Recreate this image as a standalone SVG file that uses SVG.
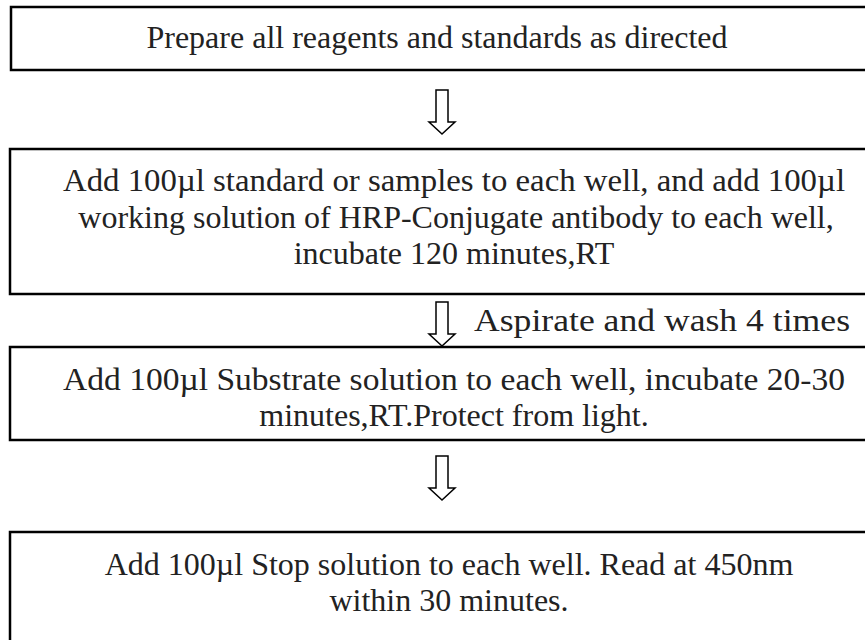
<svg xmlns="http://www.w3.org/2000/svg" width="865" height="640" viewBox="0 0 865 640">
<style>
.box{fill:#fff;stroke:#000;stroke-width:2.5}
.t{font-family:"Liberation Serif","Times New Roman",serif;font-size:32px;fill:#222;text-anchor:middle}
.tl{font-family:"Liberation Serif","Times New Roman",serif;font-size:32px;fill:#222}
.arr{fill:#fff;stroke:#000;stroke-width:1.5;stroke-linejoin:miter}
</style>
<defs>
<path id="dn" d="M-6,0 H6 V32 H13 L0,44 L-13,32 H-6 Z"/>
</defs>
<rect width="865" height="640" fill="#fff"/>
<g id="n1">
<rect class="box" x="11" y="7" width="900" height="63"/>
<text class="t" x="437" y="48">Prepare all reagents and standards as directed</text>
</g>
<g id="n2">
<rect class="box" x="10" y="149" width="900" height="145"/>
<text class="t" x="454" y="191" textLength="782" lengthAdjust="spacingAndGlyphs">Add 100µl standard or samples to each well, and add 100µl</text>
<text class="t" x="456" y="228">working solution of HRP-Conjugate antibody to each well,</text>
<text class="t" x="454" y="264">incubate 120 minutes,RT</text>
</g>
<g id="n3">
<rect class="box" x="10" y="347" width="900" height="93"/>
<text class="t" x="454" y="390" textLength="782" lengthAdjust="spacingAndGlyphs">Add 100µl Substrate solution to each well, incubate 20-30</text>
<text class="t" x="454" y="426">minutes,RT.Protect from light.</text>
</g>
<g id="n4">
<rect class="box" x="10" y="532" width="900" height="130"/>
<text class="t" x="449" y="575">Add 100µl Stop solution to each well. Read at 450nm</text>
<text class="t" x="449" y="611">within 30 minutes.</text>
</g>
<g id="connectors">
<use href="#dn" class="arr" x="442" y="90"/>
<use href="#dn" class="arr" x="442" y="302"/>
<use href="#dn" class="arr" x="442" y="456"/>
<text class="tl" x="474" y="331" textLength="376" lengthAdjust="spacingAndGlyphs">Aspirate and wash 4 times</text>
</g>
</svg>
